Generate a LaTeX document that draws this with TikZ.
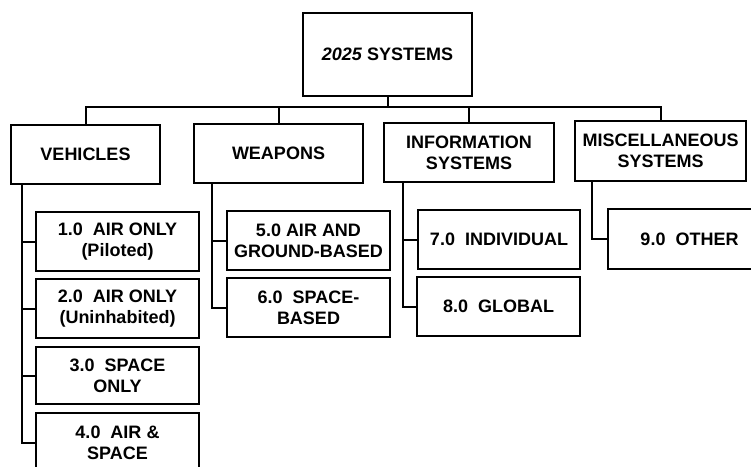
\documentclass[tikz,border=0pt]{standalone}
\usepackage{fontspec}
\setmainfont{Liberation Sans}
\begin{document}
\begin{tikzpicture}[x=1pt,y=-1pt,
  box/.style={draw,line width=1.4pt,inner sep=0pt,align=center,
    font=\bfseries\fontsize{18}{21}\selectfont},
  conn/.style={line width=2pt}]
\clip (0,0) rectangle (751,466);
\node[box,minimum width=169,minimum height=83] (top) at (387.5,54.5) {\textit{2025} SYSTEMS};
\node[box,minimum width=149,minimum height=59] (veh) at (85.5,154.5) {VEHICLES};
\node[box,minimum width=169,minimum height=59] (weap) at (278.5,153.5) {WEAPONS};
\node[box,minimum width=170,minimum height=59] (info) at (469,152.5) {INFORMATION\\SYSTEMS};
\node[box,minimum width=171,minimum height=60] (misc) at (660.5,151) {MISCELLANEOUS\\SYSTEMS};
\node[box,minimum width=163,minimum height=59] (b1) at (117.5,241.5) {1.0~~AIR ONLY\\(Piloted)};
\node[box,minimum width=163,minimum height=59] (b2) at (117.5,308.5) {2.0~~AIR ONLY\\(Uninhabited)};
\node[box,minimum width=163,minimum height=57] (b3) at (117.5,375.5) {3.0~~SPACE\\ONLY};
\node[box,minimum width=163,minimum height=59] (b4) at (117.5,442.5) {4.0~~AIR \&\\SPACE};
\node[box,minimum width=163,minimum height=59] (b5) at (308.5,240.5) {5.0 AIR AND\\GROUND-BASED};
\node[box,minimum width=163,minimum height=59] (b6) at (308.5,307.5) {6.0~~SPACE-\\BASED};
\node[box,minimum width=162,minimum height=59] (b7) at (499,239.5) {7.0~~INDIVIDUAL};
\node[box,minimum width=163,minimum height=59] (b8) at (498.5,306.5) {8.0~~GLOBAL};
\node[box,minimum width=163,minimum height=60] (b9) at (689.5,239) {9.0~~OTHER};
\coordinate (bar) at (387.5,107);
\draw[conn] (top.south) -- (bar);
\draw[conn] (bar) -| (veh.north);
\draw[conn] (bar) -| (weap.north);
\draw[conn] (bar) -| (info.north);
\draw[conn] (bar) -| (misc.north);
\coordinate (vs) at ([xshift=12pt]veh.south west);
\draw[conn] (vs) |- (b1.west);
\draw[conn] (vs) |- (b2.west);
\draw[conn] (vs) |- (b3.west);
\draw[conn] (vs) |- (b4.west);
\coordinate (ws) at ([xshift=19pt]weap.south west);
\draw[conn] (ws) |- (b5.west);
\draw[conn] (ws) |- (b6.west);
\coordinate (is) at ([xshift=20pt]info.south west);
\draw[conn] (is) |- (b7.west);
\draw[conn] (is) |- (b8.west);
\coordinate (ms) at ([xshift=18pt]misc.south west);
\draw[conn] (ms) |- (b9.west);
\end{tikzpicture}
\end{document}
